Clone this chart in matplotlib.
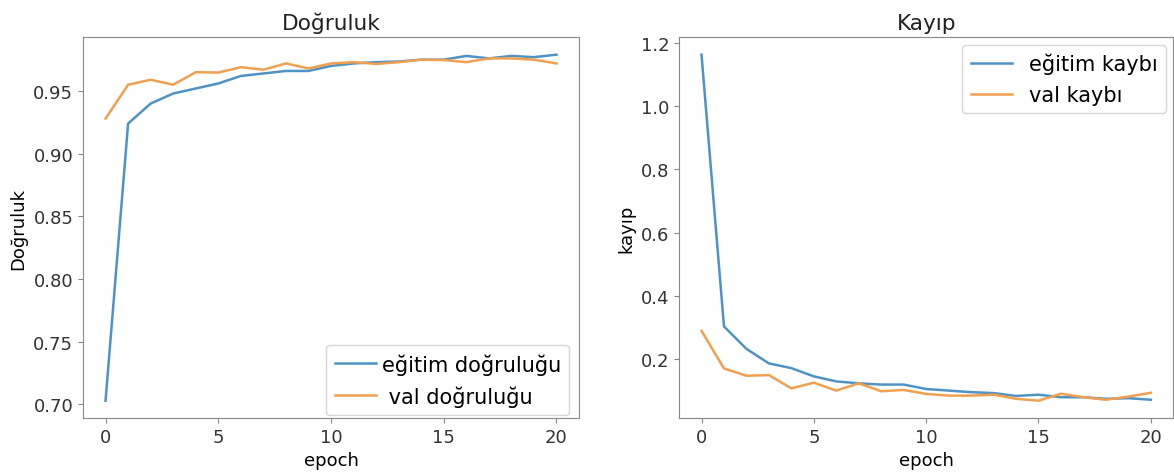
import numpy as np
import matplotlib.pyplot as plt

# epochs 0..20
epochs = list(range(21))

egitim_dogruluk = [0.703, 0.924, 0.940, 0.948, 0.952, 0.956, 0.962, 0.964, 0.966, 0.966, 0.970,
                   0.972, 0.973, 0.9735, 0.975, 0.975, 0.978, 0.976, 0.978, 0.977, 0.979]
val_dogruluk = [0.928, 0.955, 0.959, 0.955, 0.965, 0.9647, 0.969, 0.967, 0.972, 0.968, 0.972,
                0.973, 0.9716, 0.973, 0.975, 0.9747, 0.973, 0.976, 0.976, 0.975, 0.972]

egitim_kayip = [1.163, 0.303, 0.232, 0.186, 0.171, 0.145, 0.129, 0.123, 0.119, 0.119, 0.105,
                0.100, 0.095, 0.092, 0.083, 0.087, 0.079, 0.079, 0.074, 0.076, 0.071]
val_kayip = [0.289, 0.170, 0.147, 0.149, 0.107, 0.125, 0.100, 0.123, 0.098, 0.102, 0.0895,
             0.084, 0.084, 0.087, 0.074, 0.068, 0.090, 0.079, 0.071, 0.081, 0.093]

plt.rcParams['font.size'] = 13
plt.rcParams['axes.edgecolor'] = '#888888'
plt.rcParams['xtick.color'] = '#888888'
plt.rcParams['ytick.color'] = '#888888'
plt.rcParams['xtick.labelcolor'] = '#333333'
plt.rcParams['ytick.labelcolor'] = '#333333'

mavi = '#4f93c4'
turuncu = '#f0a050'

fig = plt.figure(figsize=(11.74, 4.77), dpi=100)
ax1 = fig.add_axes([0.0707, 0.1216, 0.4225, 0.798])
ax2 = fig.add_axes([0.5784, 0.1216, 0.421, 0.798])

# dogruluk
ax1.plot(epochs, egitim_dogruluk, color=mavi, lw=1.8, label='eğitim doğruluğu')
ax1.plot(epochs, val_dogruluk, color=turuncu, lw=1.8, label=' val doğruluğu')
ax1.set_title('Doğruluk', color='#222222')
ax1.set_xlabel('epoch')
ax1.set_ylabel('Doğruluk')
ax1.set_xticks([0, 5, 10, 15, 20])
ax1.legend(loc='lower right', bbox_to_anchor=(0.98, 0.008), borderaxespad=0,
           fontsize=15, handletextpad=0.25)

# kayip
ax2.plot(epochs, egitim_kayip, color=mavi, lw=1.8, label='eğitim kaybı')
ax2.plot(epochs, val_kayip, color=turuncu, lw=1.8, label='val kaybı')
ax2.set_title('Kayıp', color='#222222')
ax2.set_xlabel('epoch')
ax2.set_ylabel('kayıp')
ax2.set_xticks([0, 5, 10, 15, 20])
ax2.legend(loc='upper right', fontsize=15, borderaxespad=0.35)

fig.savefig('out.png', dpi=100)
